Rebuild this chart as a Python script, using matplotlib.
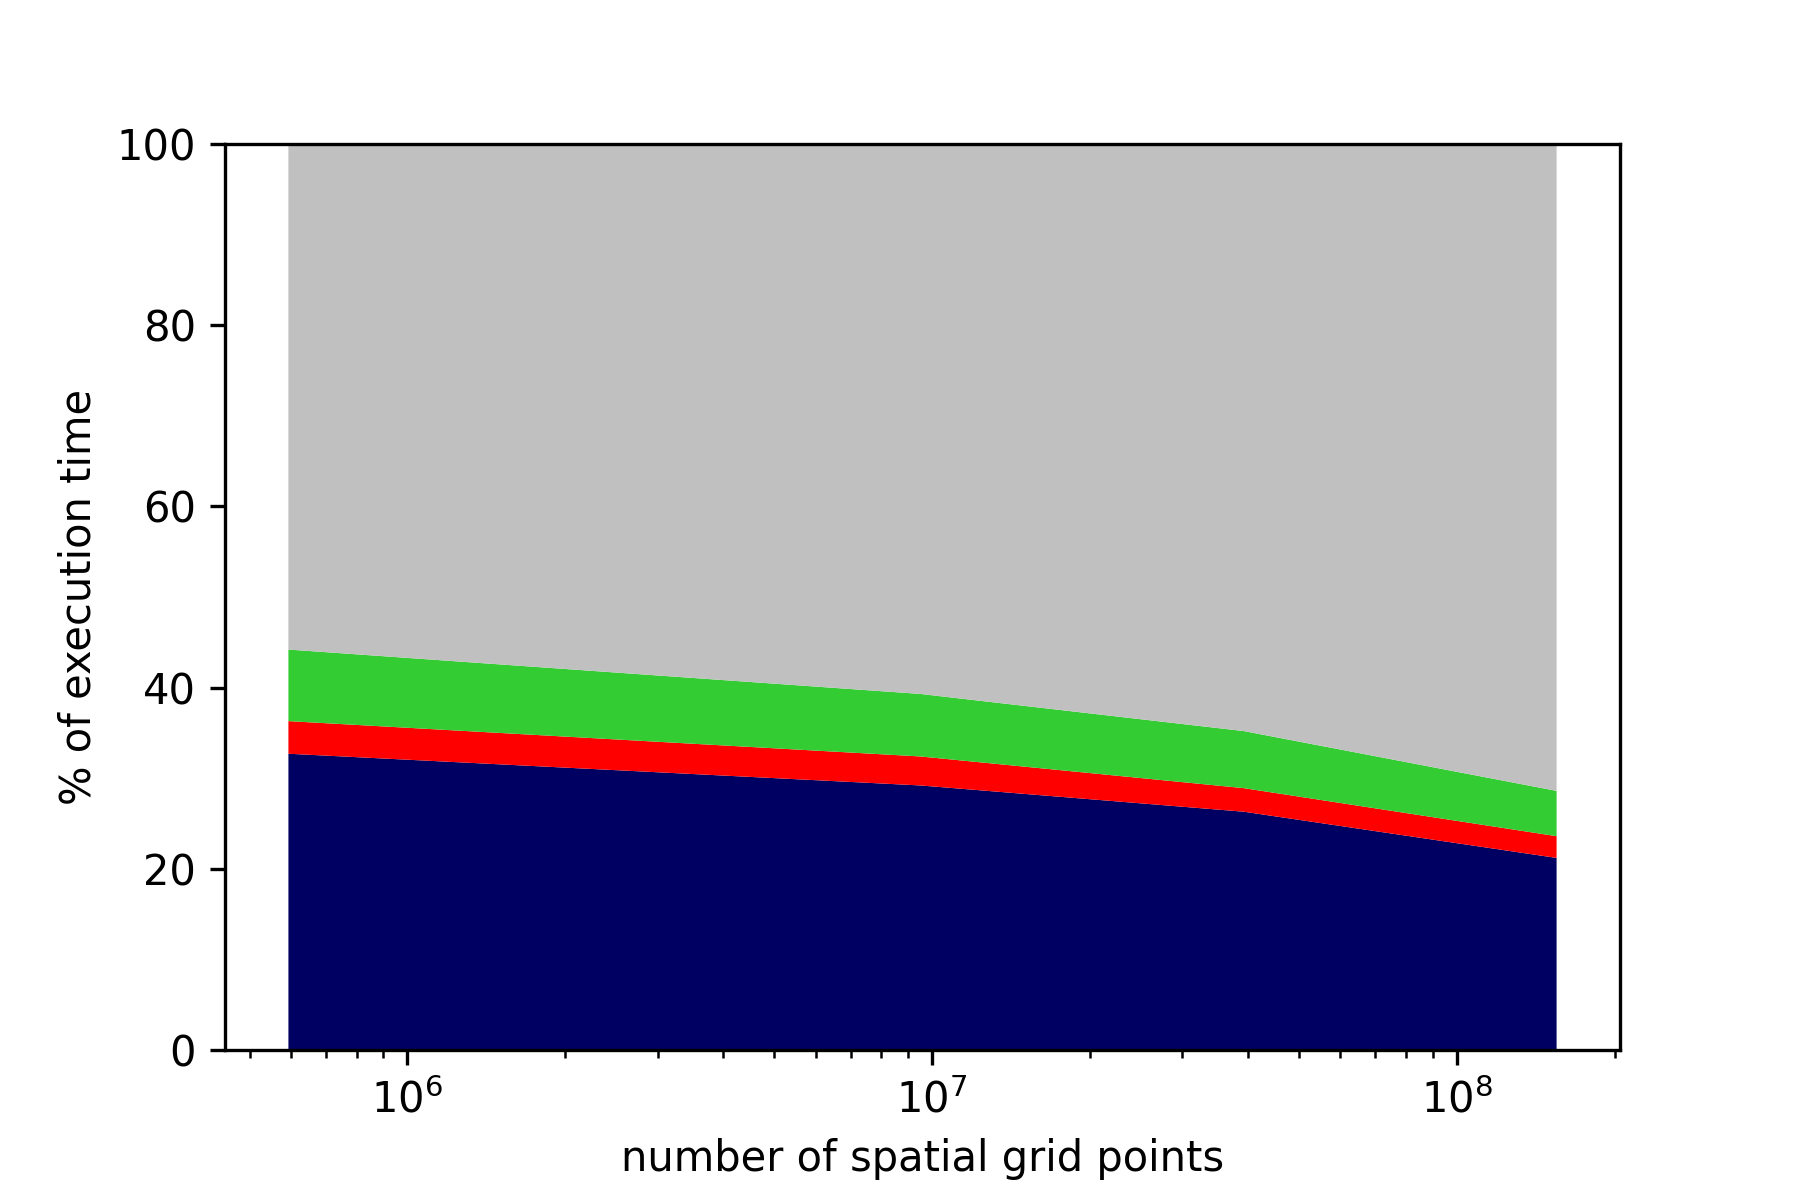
import matplotlib
matplotlib.use("Agg")
import matplotlib.pyplot as plt
import numpy as np

grid_points = [5.93e5, 9.5e6, 3.93e7, 1.55e8]
part_a = [32.7, 29.2, 26.3, 21.2]
part_b = [3.6, 3.2, 2.6, 2.4]
part_c = [7.9, 6.9, 6.3, 5.0]
rest = [100 - a - b - c for a, b, c in zip(part_a, part_b, part_c)]

colors = ["#000062", "#ff0000", "#33cc33", "#c0c0c0"]

fig, ax = plt.subplots(figsize=(6, 4), dpi=300)
fig.subplots_adjust(bottom=0.125)
ax.stackplot(grid_points, part_a, part_b, part_c, rest, colors=colors)
ax.set_xscale("log")
ax.set_ylim(0, 100)
ax.set_xlabel("number of spatial grid points")
ax.set_ylabel("% of execution time")

fig.savefig("out.png", dpi=300)
